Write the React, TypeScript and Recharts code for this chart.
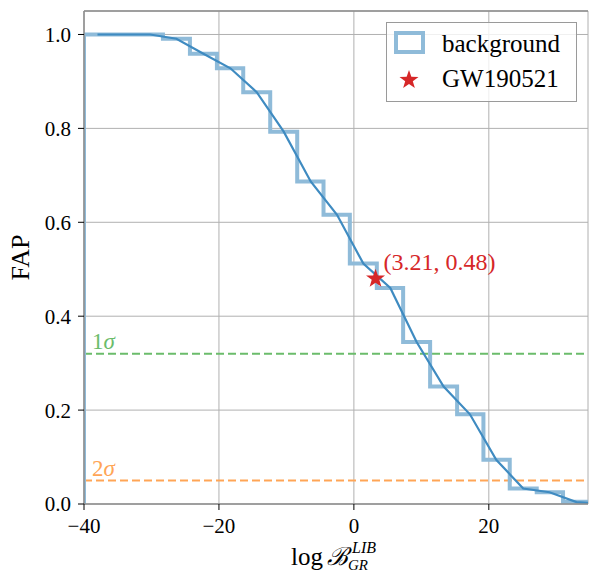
import React from "react";
import {
  ComposedChart,
  Line,
  Scatter,
  XAxis,
  YAxis,
  CartesianGrid,
  ReferenceLine,
} from "recharts";

// background FAP histogram
const binEdges = [-40, -36.1, -32.2, -28.3, -24.3, -20.3, -16.4, -12.4, -8.4, -4.5, -0.6, 3.4, 7.3, 11.3, 15.3, 19.2, 23.1, 27.1, 31.0, 35.0];
const fapLevels = [1.0, 1.0, 1.0, 0.991, 0.959, 0.928, 0.877, 0.793, 0.687, 0.616, 0.512, 0.46, 0.345, 0.25, 0.191, 0.094, 0.033, 0.025, 0.005];

// smooth curve through the bin centres
const curveX = [-38.0, -34.1, -30.2, -26.3, -22.3, -18.3, -14.4, -10.4, -6.4, -2.5, 1.4, 5.4, 9.3, 13.3, 17.2, 21.1, 25.1, 29.0, 33.0, 37.0];
const curveFap = [1.0, 1.0, 1.0, 0.991, 0.959, 0.928, 0.877, 0.793, 0.687, 0.616, 0.512, 0.46, 0.345, 0.25, 0.191, 0.094, 0.033, 0.025, 0.004, 0.0];

const event = { name: "GW190521", x: 3.21, y: 0.48 };
const sigmaLines = [
  { label: "1", y: 0.32, color: "#6bbc6b" },
  { label: "2", y: 0.05, color: "#ffa556" },
];

const xTicks = [-40, -20, 0, 20];
const yTicks = [0, 0.2, 0.4, 0.6, 0.8, 1.0];

const FONT = "Liberation Serif, serif";
const STEP_COLOR = "#8fbbd9";
const CURVE_COLOR = "#3f8bc1";
const RED = "#d62728";
const SPINE = "#8c8c8c";

const stepData = [
  { x: binEdges[0], y: 0 },
  ...fapLevels.map((v, i) => ({ x: binEdges[i], y: v })),
  { x: binEdges[binEdges.length - 1], y: 0 },
];
const curveData = curveX.map((x, i) => ({ x, y: curveFap[i] }));

function starPoints(cx: number, cy: number, R: number, r: number) {
  const pts: string[] = [];
  for (let i = 0; i < 10; i++) {
    const rad = i % 2 === 0 ? R : r;
    const a = -Math.PI / 2 + (i * Math.PI) / 5;
    pts.push(`${cx + rad * Math.cos(a)},${cy + rad * Math.sin(a)}`);
  }
  return pts.join(" ");
}

const EventMarker = (props: any) => {
  const { cx, cy, payload } = props;
  return (
    <g>
      <polygon points={starPoints(cx, cy, 10, 4)} fill={RED} />
      <text x={cx + 8} y={cy - 9} fill={RED} fontSize={24} fontFamily={FONT}>
        ({payload.x}, {payload.y})
      </text>
    </g>
  );
};

const sigmaLabel = (num: string, color: string) => (props: any) => {
  const { viewBox } = props;
  return (
    <text x={viewBox.x + 8} y={viewBox.y - 5} fill={color} fontSize={23} fontFamily={FONT}>
      {num}
      <tspan fontStyle="italic">σ</tspan>
    </text>
  );
};

const XLabel = (props: any) => {
  const { viewBox } = props;
  const cx = viewBox.x + viewBox.width / 2;
  const base = viewBox.y + 61;
  return (
    <g fontFamily={FONT} fill="#000">
      <text x={cx - 45} y={base} fontSize={25}>log</text>
      <text x={cx - 9} y={base} fontSize={25} fontStyle="italic">ℬ</text>
      <text x={cx + 16} y={base - 12} fontSize={16} fontStyle="italic">LIB</text>
      <text x={cx + 12} y={base + 5} fontSize={15} fontStyle="italic">GR</text>
    </g>
  );
};

const YLabel = (props: any) => {
  const { viewBox } = props;
  const cy = viewBox.y + viewBox.height / 2;
  return (
    <text
      x={29}
      y={cy}
      transform={`rotate(-90, 29, ${cy})`}
      textAnchor="middle"
      fontSize={26}
      fontFamily={FONT}
      fill="#000"
    >
      FAP
    </text>
  );
};

const fmtX = (v: number) => (v < 0 ? `−${Math.abs(v)}` : `${v}`);
const fmtY = (v: number) => v.toFixed(1);

function Legend() {
  return (
    <div
      style={{
        position: "absolute",
        left: 386,
        top: 22,
        width: 191,
        height: 80,
        boxSizing: "border-box",
        border: "1.5px solid #9a9a9a",
        background: "rgba(255,255,255,0.8)",
      }}
    >
      <svg width={188} height={77} style={{ position: "absolute", left: 0, top: 0 }}>
        <rect x={9} y={10} width={27} height={19} fill="none" stroke={STEP_COLOR} strokeWidth={4} />
        <text x={55} y={29} fontSize={25} fontFamily={FONT} fill="#000">background</text>
        <polygon points={starPoints(22, 57, 10, 4)} fill={RED} />
        <text x={55} y={64} fontSize={25} fontFamily={FONT} fill="#000">{event.name}</text>
      </svg>
    </div>
  );
}

export default function App() {
  return (
    <div style={{ position: "absolute", left: 0, top: 0, width: 589, height: 573, background: "#fff" }}>
      <ComposedChart
        width={589}
        height={573}
        margin={{ top: 11, right: 1, bottom: 0, left: 0 }}
      >
        <CartesianGrid stroke="#b0b0b0" strokeWidth={1} />
        <XAxis
          dataKey="x"
          type="number"
          domain={[-40, 34.7]}
          allowDataOverflow
          ticks={xTicks}
          tickFormatter={fmtX}
          height={69}
          tickSize={6}
          tickMargin={8}
          axisLine={{ stroke: SPINE, strokeWidth: 1.5 }}
          tickLine={{ stroke: "#000" }}
          tick={{ fill: "#000", fontSize: 21, fontFamily: FONT }}
          label={{ content: XLabel }}
        />
        <YAxis
          type="number"
          domain={[0, 1.05]}
          allowDataOverflow
          ticks={yTicks}
          tickFormatter={fmtY}
          width={84}
          tickSize={6}
          tickMargin={7}
          axisLine={{ stroke: SPINE, strokeWidth: 1.5 }}
          tickLine={{ stroke: "#000" }}
          tick={{ fill: "#000", fontSize: 21, fontFamily: FONT }}
          label={{ content: YLabel }}
        />
        <ReferenceLine y={1.05} stroke={SPINE} strokeWidth={1.5} />
        {sigmaLines.map((s) => (
          <ReferenceLine
            key={s.label}
            y={s.y}
            stroke={s.color}
            strokeWidth={2.2}
            strokeDasharray="8 4"
            label={{ content: sigmaLabel(s.label, s.color) }}
          />
        ))}
        <Line
          data={stepData}
          dataKey="y"
          type="stepAfter"
          stroke={STEP_COLOR}
          strokeWidth={4}
          dot={false}
          isAnimationActive={false}
        />
        <Scatter
          data={[event]}
          dataKey="y"
          fill={RED}
          shape={EventMarker}
          isAnimationActive={false}
        />
        <Line
          data={curveData}
          dataKey="y"
          type="linear"
          stroke={CURVE_COLOR}
          strokeWidth={2.2}
          dot={false}
          isAnimationActive={false}
        />
      </ComposedChart>
      <Legend />
    </div>
  );
}
